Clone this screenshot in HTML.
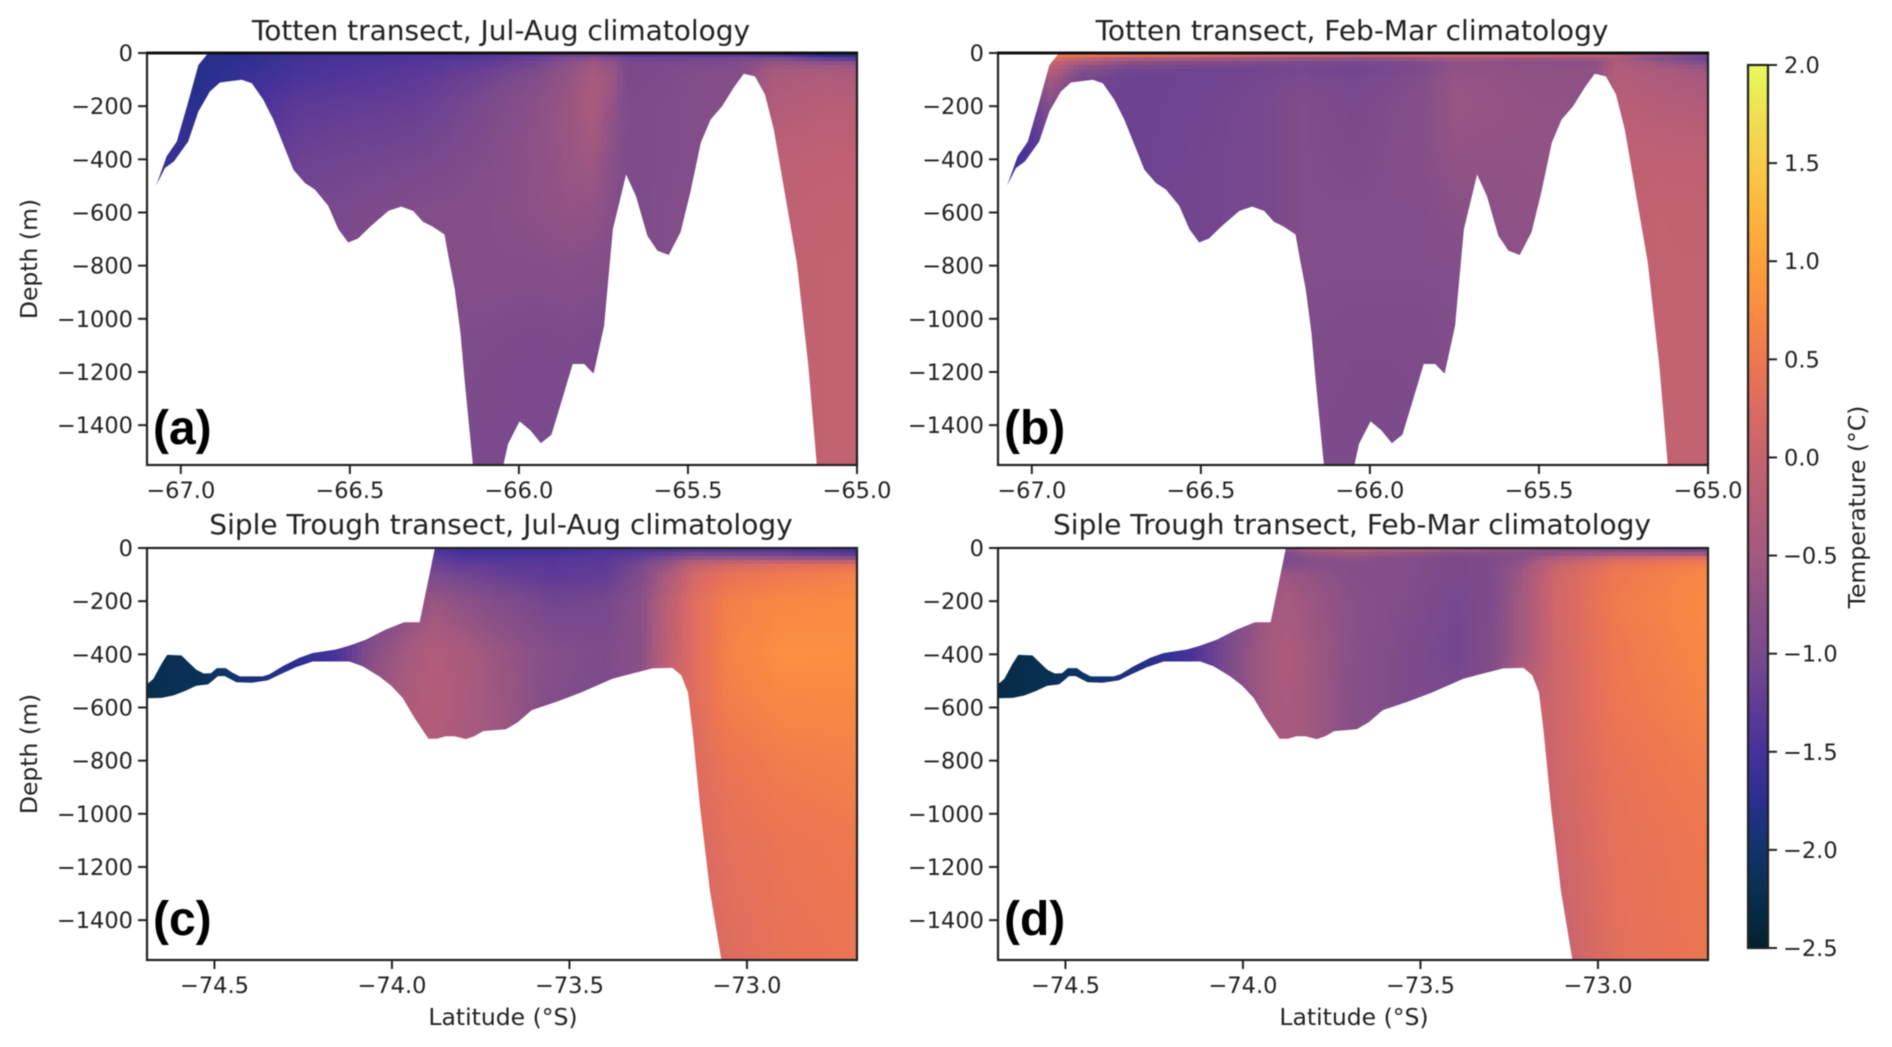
<!DOCTYPE html>
<html lang="en">
<head>
<meta charset="utf-8">
<title>Temperature transects</title>
<style>
html,body{margin:0;padding:0;background:#fff;width:1892px;height:1047px;overflow:hidden}
svg{display:block;filter:blur(0.5px)}
text{font-family:"DejaVu Sans","Liberation Sans",sans-serif;fill:#222}
</style>
</head>
<body>
<svg id="figure" xmlns="http://www.w3.org/2000/svg" width="1892" height="1047" viewBox="0 0 1892 1047"></svg>
<script>
// Depth levels (m) for each temperature column
const depthNodes = [0,15,30,60,100,200,400,600,800,1100,1550];

// Totten bathymetry and upper boundary
const tottenTopLat = [-67.073,-67.042,-67.012,-66.979,-66.948,-66.919,-65];
const tottenTopDepth = [-499,-389,-333,-188,-45,0,0];
const tottenBedLat = [-67.073,-67.047,-67.02,-66.978,-66.948,-66.914,-66.884,-66.82,-66.79,-66.756,-66.726,-66.667,-66.633,-66.603,-66.564,-66.534,-66.505,-66.476,-66.437,-66.386,-66.348,-66.313,-66.284,-66.255,-66.22,-66.207,-66.19,-66.173,-66.16,-66.136,-66.046,-66.032,-65.998,-65.966,-65.935,-65.904,-65.876,-65.841,-65.807,-65.779,-65.748,-65.722,-65.683,-65.654,-65.62,-65.59,-65.557,-65.522,-65.493,-65.462,-65.433,-65.399,-65.365,-65.335,-65.302,-65.272,-65.246,-65.212,-65.178,-65.144,-65.119,-65];
const tottenBedDepth = [-499,-433,-408,-333,-220,-145,-111,-101,-114,-176,-251,-439,-489,-514,-575,-663,-713,-698,-650,-594,-578,-594,-635,-653,-683,-775,-888,-1051,-1238,-1550,-1550,-1470,-1386,-1420,-1468,-1436,-1320,-1170,-1170,-1207,-1026,-663,-457,-538,-688,-744,-760,-675,-525,-338,-250,-200,-131,-78,-88,-156,-288,-538,-788,-1176,-1550,-1550];

// Siple Trough bathymetry and ice draft
const sipleTopLat = [-74.69,-74.672,-74.649,-74.633,-74.593,-74.574,-74.551,-74.53,-74.51,-74.493,-74.468,-74.452,-74.429,-74.364,-74.345,-74.308,-74.261,-74.223,-74.158,-74.12,-74.074,-74.018,-73.966,-73.922,-73.879,-72.69];
const sipleTopDepth = [-513,-492,-435,-402,-404,-429,-458,-472,-471,-452,-452,-467,-483,-483,-475,-445,-413,-395,-382,-367,-345,-307,-279,-279,0,0];
const sipleBedLat = [-74.69,-74.649,-74.616,-74.583,-74.551,-74.518,-74.504,-74.49,-74.471,-74.457,-74.438,-74.396,-74.35,-74.317,-74.27,-74.223,-74.12,-74.083,-74.036,-74.002,-73.97,-73.938,-73.897,-73.873,-73.849,-73.824,-73.792,-73.768,-73.743,-73.679,-73.646,-73.606,-73.533,-73.468,-73.379,-73.323,-73.266,-73.21,-73.185,-73.166,-73.153,-73.132,-73.104,-73.072,-72.69];
const sipleBedDepth = [-565,-564,-555,-538,-518,-513,-498,-482,-482,-492,-505,-507,-498,-477,-448,-427,-427,-445,-483,-518,-564,-636,-718,-718,-708,-708,-719,-708,-689,-682,-656,-610,-577,-544,-492,-472,-453,-451,-479,-544,-689,-977,-1292,-1550,-1550];

// Temperature (deg C): one row per latitude node, one value per depth level
const latA = [-67.1,-66.95,-66.8,-66.65,-66.5,-66.3,-66.1,-65.95,-65.85,-65.78,-65.72,-65.68,-65.5,-65.35,-65.25,-65.1,-65];
const tempA = [
[-1.6,-1.6,-1.6,-1.6,-1.6,-1.6,-1.6,-1.6,-1.6,-1.6,-1.6],
[-1.8,-1.8,-1.8,-1.8,-1.8,-1.75,-1.65,-1.6,-1.6,-1.6,-1.6],
[-1.72,-1.72,-1.7,-1.65,-1.6,-1.5,-1.4,-1.3,-1.3,-1.3,-1.3],
[-1.58,-1.55,-1.52,-1.5,-1.45,-1.3,-1.15,-1.05,-1.05,-1.05,-1.05],
[-1.52,-1.5,-1.47,-1.43,-1.38,-1.25,-1.1,-1,-0.95,-0.95,-0.95],
[-1.48,-1.45,-1.4,-1.35,-1.3,-1.2,-1.05,-0.9,-0.88,-0.9,-0.95],
[-1.42,-1.38,-1.3,-1.2,-1.1,-1,-0.9,-0.85,-0.85,-0.95,-1],
[-1.32,-1.25,-1.1,-1,-0.9,-0.77,-0.75,-0.76,-0.85,-1,-1],
[-1.22,-1.05,-0.8,-0.7,-0.65,-0.6,-0.62,-0.68,-0.82,-0.97,-1],
[-1.25,-0.95,-0.6,-0.5,-0.43,-0.4,-0.55,-0.7,-0.85,-1,-1],
[-1.3,-1.05,-0.75,-0.65,-0.6,-0.7,-0.8,-0.85,-0.9,-1,-1],
[-1.4,-1.2,-1,-1,-1,-0.95,-0.95,-0.95,-0.95,-1,-1],
[-1.35,-1.2,-1,-0.93,-0.9,-0.9,-0.9,-0.88,-0.88,-0.9,-0.9],
[-1.42,-1.12,-0.96,-0.9,-0.85,-0.82,-0.8,-0.8,-0.8,-0.8,-0.8],
[-1.6,-1.1,-0.7,-0.5,-0.4,-0.3,-0.15,-0.1,-0.1,-0.08,-0.08],
[-1.9,-1.6,-0.8,-0.45,-0.32,-0.22,-0.1,-0.06,-0.05,-0.05,-0.05],
[-2,-1.75,-0.85,-0.47,-0.35,-0.22,-0.1,-0.05,-0.05,-0.05,-0.05]
];

const latB = [-67.1,-67.05,-66.95,-66.85,-66.7,-66.5,-66.3,-66.2,-66.05,-65.85,-65.75,-65.5,-65.33,-65.27,-65.15,-65];
const tempB = [
[-1.6,-1.6,-1.6,-1.6,-1.6,-1.6,-1.6,-1.6,-1.6,-1.6,-1.6],
[-1.55,-1.55,-1.55,-1.55,-1.55,-1.55,-1.55,-1.55,-1.55,-1.55,-1.55],
[0.6,0.4,0.1,-0.2,-0.45,-0.9,-1.3,-1.3,-1.3,-1.3,-1.3],
[0.75,0.2,-0.3,-0.85,-1.05,-1.15,-1.2,-1.2,-1.2,-1.2,-1.2],
[0.75,-0.05,-0.7,-1.1,-1.15,-1.15,-1.15,-1.1,-1.1,-1.1,-1.1],
[0.7,-0.15,-0.85,-1.12,-1.12,-1.1,-1.08,-1.08,-1.08,-1.08,-1.08],
[0.55,-0.25,-0.95,-1.08,-1.05,-1.02,-1.02,-1.02,-1.02,-1.02,-1.02],
[0.5,-0.35,-0.95,-1.05,-1,-0.9,-0.9,-0.9,-0.9,-0.92,-0.95],
[0.4,-0.45,-1,-1.1,-1.05,-1,-0.95,-0.9,-0.9,-0.95,-0.98],
[0.5,-0.35,-0.92,-0.98,-0.9,-0.85,-0.85,-0.9,-0.9,-0.95,-0.95],
[0.5,-0.35,-0.72,-0.7,-0.65,-0.62,-0.7,-0.8,-0.9,-0.9,-0.9],
[0.4,-0.35,-0.8,-0.75,-0.72,-0.7,-0.7,-0.7,-0.7,-0.7,-0.7],
[0.3,-0.35,-0.8,-0.7,-0.7,-0.7,-0.7,-0.7,-0.7,-0.7,-0.7],
[0,-0.4,-0.35,-0.3,-0.25,-0.2,-0.1,-0.1,-0.1,-0.1,-0.1],
[-0.4,-0.95,-0.65,-0.4,-0.35,-0.25,-0.1,-0.05,-0.05,-0.05,-0.05],
[-0.9,-1.3,-1,-0.6,-0.45,-0.3,-0.12,-0.06,-0.05,-0.05,-0.05]
];

const latC = [-74.69,-74.55,-74.4,-74.25,-74.15,-74.05,-73.95,-73.88,-73.8,-73.7,-73.55,-73.4,-73.3,-73.22,-73.15,-73.05,-72.9,-72.69];
const tempC = [
[-2.25,-2.25,-2.25,-2.25,-2.25,-2.25,-2.25,-2.25,-2.25,-2.25,-2.25],
[-2.15,-2.15,-2.15,-2.15,-2.15,-2.15,-2.15,-2.15,-2.15,-2.15,-2.15],
[-1.9,-1.9,-1.9,-1.9,-1.9,-1.9,-1.9,-1.9,-1.9,-1.9,-1.9],
[-1.7,-1.7,-1.7,-1.7,-1.7,-1.7,-1.7,-1.7,-1.7,-1.7,-1.7],
[-1.45,-1.45,-1.45,-1.45,-1.45,-1.45,-1.45,-1.45,-1.45,-1.45,-1.45],
[-1.2,-1.2,-1.2,-1.2,-1.2,-1.1,-0.8,-0.6,-0.6,-0.6,-0.6],
[-1,-1,-1,-1,-0.9,-0.8,-0.45,-0.35,-0.35,-0.35,-0.35],
[-1.5,-1.4,-1.3,-1.15,-1,-0.6,-0.3,-0.28,-0.3,-0.3,-0.3],
[-1.6,-1.55,-1.45,-1.25,-1.1,-0.75,-0.4,-0.38,-0.45,-0.45,-0.45],
[-1.55,-1.52,-1.45,-1.3,-1.2,-0.9,-0.6,-0.55,-0.55,-0.55,-0.55],
[-1.6,-1.5,-1.42,-1.35,-1.3,-1.1,-0.85,-0.9,-0.9,-0.9,-0.9],
[-1.5,-1.45,-1.35,-1.3,-1.25,-1.05,-0.95,-1,-1,-1,-1],
[-1.5,-1.4,-1.25,-1.05,-0.95,-0.8,-0.8,-0.8,-0.8,-0.8,-0.8],
[-1.5,-1.3,-1.1,-0.65,-0.4,-0.15,-0.1,0.15,0.15,0.15,0.15],
[-1.4,-1.2,-0.9,-0.1,0.15,0.3,0.3,0.3,0.25,0.2,0.15],
[-1.5,-1.2,-0.9,0.15,0.4,0.6,0.65,0.58,0.47,0.36,0.28],
[-1.5,-1.25,-1,0.3,0.52,0.72,0.8,0.7,0.58,0.46,0.4],
[-1.6,-1.4,-1.2,0.35,0.62,0.75,0.78,0.72,0.63,0.52,0.46]
];

const latD = [-74.69,-74.55,-74.4,-74.25,-74.15,-74.05,-73.95,-73.88,-73.8,-73.7,-73.55,-73.4,-73.3,-73.22,-73.12,-72.95,-72.69];
const tempD = [
[-2.3,-2.3,-2.3,-2.3,-2.3,-2.3,-2.3,-2.3,-2.3,-2.3,-2.3],
[-2.2,-2.2,-2.2,-2.2,-2.2,-2.2,-2.2,-2.2,-2.2,-2.2,-2.2],
[-1.95,-1.95,-1.95,-1.95,-1.95,-1.95,-1.95,-1.95,-1.95,-1.95,-1.95],
[-1.75,-1.75,-1.75,-1.75,-1.75,-1.75,-1.75,-1.75,-1.75,-1.75,-1.75],
[-1.5,-1.5,-1.5,-1.5,-1.5,-1.5,-1.5,-1.5,-1.5,-1.5,-1.5],
[-1.1,-1.1,-1.1,-1.1,-1.1,-1.1,-1,-1,-1,-1,-1],
[-0.6,-0.6,-0.6,-0.6,-0.6,-0.6,-0.55,-0.55,-0.55,-0.55,-0.55],
[-0.6,-0.9,-1,-0.9,-0.6,-0.45,-0.35,-0.4,-0.4,-0.4,-0.4],
[-0.3,-0.5,-0.8,-0.85,-0.68,-0.6,-0.55,-0.55,-0.55,-0.55,-0.55],
[-0.1,-0.4,-0.7,-0.85,-0.85,-0.78,-0.78,-0.8,-0.8,-0.8,-0.8],
[-0.2,-0.5,-0.85,-0.88,-0.88,-0.9,-0.95,-0.95,-0.95,-0.95,-0.95],
[-0.4,-0.8,-1,-1,-1,-1.05,-1.08,-1,-1,-1,-1],
[-0.5,-0.8,-0.95,-0.95,-0.95,-0.95,-0.92,-0.92,-0.92,-0.92,-0.92],
[-0.6,-0.8,-0.85,-0.7,-0.58,-0.5,-0.5,-0.1,-0.1,-0.1,-0.1],
[-0.7,-0.9,-0.45,-0.05,0.1,0.12,0.1,0.1,0.1,0.05,-0.05],
[-0.8,-1,0,0.4,0.5,0.55,0.5,0.48,0.42,0.38,0.33],
[-0.9,-1.2,0.2,0.6,0.72,0.75,0.72,0.66,0.58,0.5,0.48]
];

// Axis ticks and text
const yTicks = [0,-200,-400,-600,-800,-1000,-1200,-1400];
const xTicksTotten = [-67,-66.5,-66,-65.5,-65];
const xTicksSiple = [-74.5,-74,-73.5,-73];
const cbarTicks = [2,1.5,1,0.5,0,-0.5,-1,-1.5,-2,-2.5];

// Colormap sampled from the colorbar
const cmapValues = [-2.5,-2.25,-2,-1.75,-1.5,-1.25,-1,-0.75,-0.5,-0.25,0,0.25,0.5,0.75,1,1.25,1.5,1.75,2];
const cmapColors = ["#04202f","#072e4d","#103469","#2a2f8f","#46329a","#623c95","#7a4a8c","#8c5186","#a3597f","#b55d78","#c6636f","#db6b62","#ee7750","#f98b42","#fda03c","#fcb53d","#f8cb47","#f0e052","#e5fb5c"];

const NS = "http://www.w3.org/2000/svg";
const figure = document.getElementById("figure");
const DEPTH_MIN = -1550;

function make(tag, attrs, parent, txt){
  const el = document.createElementNS(NS, tag);
  for (const k in attrs) el.setAttribute(k, attrs[k]);
  if (txt !== undefined) el.textContent = txt;
  (parent || figure).appendChild(el);
  return el;
}
function hexRgb(h){ return [parseInt(h.substr(1,2),16),parseInt(h.substr(3,2),16),parseInt(h.substr(5,2),16)]; }
const cmapRgb = cmapColors.map(hexRgb);
function bracket(arr, v){
  if (v <= arr[0]) return [0,0,0];
  const n = arr.length-1;
  if (v >= arr[n]) return [n,n,0];
  let i = 0;
  while (arr[i+1] < v) i++;
  return [i,i+1,(v-arr[i])/(arr[i+1]-arr[i])];
}
function colorOf(t){
  const b = bracket(cmapValues, t);
  const a = cmapRgb[b[0]], c = cmapRgb[b[1]];
  return "rgb("+[0,1,2].map(j=>Math.round(a[j]+(c[j]-a[j])*b[2])).join(",")+")";
}
function interp1(xs, ys, x){
  const b = bracket(xs, x);
  return ys[b[0]]+(ys[b[1]]-ys[b[0]])*b[2];
}
function tempAt(lats, table, lat, depth){
  const bx = bracket(lats, lat), by = bracket(depthNodes, depth);
  const r0 = table[bx[0]], r1 = table[bx[1]];
  const v0 = r0[by[0]]+(r0[by[1]]-r0[by[0]])*by[2];
  const v1 = r1[by[0]]+(r1[by[1]]-r1[by[0]])*by[2];
  return v0+(v1-v0)*bx[2];
}
function fmt(v, d){ return v.toFixed(d).replace("-","\u2212"); }

function drawPanel(p){
  const W = p.right-p.left, H = p.bottom-p.top;
  const xScale = lat => p.left+(lat-p.xMin)/(p.xMax-p.xMin)*W;
  const yScale = d => p.top+(-d)/(-DEPTH_MIN)*H;
  const latOf = x => p.xMin+(x-p.left)/W*(p.xMax-p.xMin);

  const panel = make("g", {});
  
  

  const clip = make("clipPath", {id:"clip-"+p.id}, panel);
  const pts = [];
  p.topLat.forEach((la,i)=>pts.push(xScale(la).toFixed(1)+","+yScale(p.topDepth[i]).toFixed(1)));
  for (let i=p.bedLat.length-1;i>=0;i--) pts.push(xScale(p.bedLat[i]).toFixed(1)+","+yScale(p.bedDepth[i]).toFixed(1));
  make("polygon", {points:pts.join(" ")}, clip);

  const field = make("g", {"clip-path":"url(#clip-"+p.id+")","shape-rendering":"crispEdges"}, panel);
  
  
  const CW = 5, CH = 4;
  for (let x=p.left; x<p.right; x+=CW){
    const laL = latOf(x), laR = latOf(x+CW), laM = latOf(x+CW/2);
    const bedD = Math.min(interp1(p.bedLat,p.bedDepth,laL),interp1(p.bedLat,p.bedDepth,laR),interp1(p.bedLat,p.bedDepth,laM));
    const topD = Math.max(interp1(p.topLat,p.topDepth,laL),interp1(p.topLat,p.topDepth,laR),interp1(p.topLat,p.topDepth,laM));
    if (laR < p.topLat[0]) continue;
    for (let y=p.top; y<p.bottom; y+=CH){
      const dUp = -(y-p.top)/H*(-DEPTH_MIN), dLo = -(y+CH-p.top)/H*(-DEPTH_MIN);
      if (dLo > topD || dUp < bedD) continue;
      const depth = (y+CH/2-p.top)/H*(-DEPTH_MIN);
      const cell = make("rect", {x:x,y:y,width:CW,height:CH,fill:colorOf(tempAt(p.lats,p.temps,laM,depth))}, field);
      
      
    }
  }

  // Spines
  const frame = make("rect", {x:p.left,y:p.top,width:W,height:H,fill:"none",stroke:"#222","stroke-width":2.2}, panel);
  
  
  if (p.thickTop){
    const topEdge = make("line", {x1:p.left-1,x2:p.right+1,y1:p.top,y2:p.top,stroke:"#111","stroke-width":3}, panel);
    
    
  }

  // Y ticks
  yTicks.forEach(v=>{
    const y = yScale(v);
    const tick = make("line", {x1:p.left-9,x2:p.left,y1:y,y2:y,stroke:"#222","stroke-width":2}, panel);
    
    
    const lab = make("text", {x:p.left-14,y:y+8,"text-anchor":"end","font-size":22.5}, panel, fmt(v,0));
    
    
  });
  // X ticks
  p.xTicks.forEach(v=>{
    const x = xScale(v);
    const tick = make("line", {x1:x,x2:x,y1:p.bottom,y2:p.bottom+9,stroke:"#222","stroke-width":2}, panel);
    
    
    const lab = make("text", {x:x,y:p.bottom+33,"text-anchor":"middle","font-size":22.5}, panel, fmt(v,1));
    
    
  });

  const title = make("text", {x:(p.left+p.right)/2-1,y:p.top-p.titleGap,"text-anchor":"middle","font-size":28}, panel, p.title);
  
  

  const letter = make("text", {x:p.left+6,y:p.bottom-p.letterLift,"font-size":48,"font-weight":"bold"}, panel, "("+p.id+")");
  letter.style.fontFamily = '"Liberation Sans",Arial,sans-serif';
  letter.style.fill = "#000";
  
  

  if (p.yLabel){
    const cy = (p.top+p.bottom)/2;
    const yl = make("text", {x:29,y:cy,"text-anchor":"middle","font-size":23.5,transform:"rotate(-90 29 "+cy+") translate(0 8)"}, panel, "Depth (m)");
    
    
  }
  if (p.xLabel){
    const xl = make("text", {x:(p.left+p.right)/2+1,y:1025,"text-anchor":"middle","font-size":23.5}, panel, "Latitude (\u00B0S)");
    
    
  }
}

const LEFT_A = 147, RIGHT_A = 857, LEFT_B = 998, RIGHT_B = 1708;
drawPanel({id:"a",left:LEFT_A,right:RIGHT_A,top:53,bottom:465,xMin:-67.1,xMax:-65,topLat:tottenTopLat,topDepth:tottenTopDepth,bedLat:tottenBedLat,bedDepth:tottenBedDepth,lats:latA,temps:tempA,xTicks:xTicksTotten,title:"Totten transect, Jul-Aug climatology",yLabel:true,xLabel:false,thickTop:true,letterLift:21,titleGap:13});
drawPanel({id:"b",left:LEFT_B,right:RIGHT_B,top:53,bottom:465,xMin:-67.1,xMax:-65,topLat:tottenTopLat,topDepth:tottenTopDepth,bedLat:tottenBedLat,bedDepth:tottenBedDepth,lats:latB,temps:tempB,xTicks:xTicksTotten,title:"Totten transect, Feb-Mar climatology",yLabel:false,xLabel:false,thickTop:true,letterLift:21,titleGap:13});
drawPanel({id:"c",left:LEFT_A,right:RIGHT_A,top:548,bottom:960,xMin:-74.69,xMax:-72.69,topLat:sipleTopLat,topDepth:sipleTopDepth,bedLat:sipleBedLat,bedDepth:sipleBedDepth,lats:latC,temps:tempC,xTicks:xTicksSiple,title:"Siple Trough transect, Jul-Aug climatology",yLabel:true,xLabel:true,thickTop:false,letterLift:25,titleGap:14});
drawPanel({id:"d",left:LEFT_B,right:RIGHT_B,top:548,bottom:960,xMin:-74.69,xMax:-72.69,topLat:sipleTopLat,topDepth:sipleTopDepth,bedLat:sipleBedLat,bedDepth:sipleBedDepth,lats:latD,temps:tempD,xTicks:xTicksSiple,title:"Siple Trough transect, Feb-Mar climatology",yLabel:false,xLabel:true,thickTop:false,letterLift:25,titleGap:14});

// Colorbar
(function(){
  const L = 1748, R = 1768, T = 65, B = 948;
  const vMin = cbarTicks[cbarTicks.length-1], vMax = cbarTicks[0];
  const yOf = v => T+(vMax-v)/(vMax-vMin)*(B-T);
  const bar = make("g", {"shape-rendering":"crispEdges"});
  
  
  for (let y=T; y<B; y+=2){
    const v = vMax-(y+1-T)/(B-T)*(vMax-vMin);
    const seg = make("rect", {x:L,y:y,width:R-L,height:2,fill:colorOf(v)}, bar);
    
    
  }
  const frame = make("rect", {x:L,y:T,width:R-L,height:B-T,fill:"none",stroke:"#222","stroke-width":2.2});
  
  
  cbarTicks.forEach(v=>{
    const y = yOf(v);
    const tick = make("line", {x1:R,x2:R+9,y1:y,y2:y,stroke:"#222","stroke-width":2});
    
    
    const lab = make("text", {x:v<0?R+15:R+16,y:y+8,"font-size":22.5}, figure, fmt(v,1));
    
    
  });
  const title = make("text", {x:1857,y:507,"text-anchor":"middle","font-size":23.5,transform:"rotate(-90 1857 507) translate(0 8)"}, figure, "Temperature (\u00B0C)");
  
  
})();
</script>
</body>
</html>
